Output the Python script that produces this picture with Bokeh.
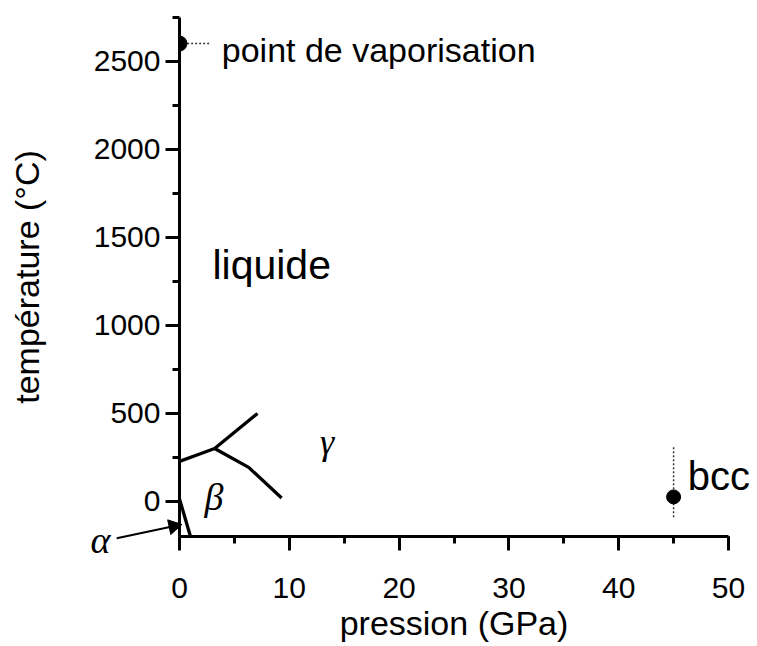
import math
from bokeh.plotting import figure
from bokeh.models import Label, SingleIntervalTicker
from bokeh.core.properties import value
from bokeh.embed import file_html
from bokeh.resources import INLINE

# ---- data (pressure in GPa, temperature in °C) ----
alpha_beta_p = [0.0, 1.0]
alpha_beta_t = [13, -200]

beta_gamma_p = [0.0, 1.9, 3.2]
beta_gamma_t = [227, 270, 300]

upper_branch_p = [3.2, 7.1]
upper_branch_t = [300, 499]

lower_branch_p = [3.2, 6.3, 9.3]
lower_branch_t = [300, 193, 19]

vap_p = [0.0]
vap_t = [2602]
vap_link_p = [0.7, 2.7]
vap_link_t = [2602, 2602]

bcc_p = [45.0]
bcc_t = [25]
bcc_link_p = [45.0, 45.0]
bcc_link_t = [308, -100]

# annotation anchors
alpha_arrow_p = [-5.72, -0.55]
alpha_arrow_t = [-210, -142]
alpha_head_p = [-0.55]
alpha_head_t = [-142]
alpha_label_p = [-7.2]
alpha_label_t = [-222]
bcc_label_p = [46.3]
bcc_label_t = [143]

x_ticks_major = 10
y_ticks_major = 500

FONT = "Liberation Sans"
SERIF = "Liberation Serif"

p = figure(width=754, height=646, x_range=(0, 50), y_range=(-200, 2750),
           output_backend="svg", toolbar_location=None,
           min_border_left=179, min_border_right=26,
           min_border_top=17, min_border_bottom=110)
p.outline_line_color = None
p.grid.visible = False
p.background_fill_color = "white"
p.border_fill_color = "white"

p.xaxis.ticker = SingleIntervalTicker(interval=x_ticks_major, num_minor_ticks=2)
p.yaxis.ticker = SingleIntervalTicker(interval=y_ticks_major, num_minor_ticks=2)

for ax in (p.xaxis[0], p.yaxis[0]):
    ax.axis_line_width = 3
    ax.axis_line_color = "black"
    ax.major_tick_line_width = 3
    ax.minor_tick_line_width = 3
    ax.major_tick_line_color = "black"
    ax.minor_tick_line_color = "black"
    ax.major_tick_in = 0
    ax.major_tick_out = 14
    ax.minor_tick_in = 0
    ax.minor_tick_out = 7
    ax.major_label_text_font = FONT
    ax.major_label_text_font_size = "30px"
    ax.major_label_text_color = "black"
    ax.axis_label_text_font = FONT
    ax.axis_label_text_font_size = "34px"
    ax.axis_label_text_font_style = "normal"
    ax.axis_label_text_color = "black"

p.xaxis.axis_label = "pression (GPa)"
p.yaxis.axis_label = "température (°C)"
p.xaxis.major_label_standoff = 27
p.yaxis.major_label_standoff = 5
p.xaxis.axis_label_standoff = 3
p.yaxis.axis_label_standoff = 45

# phase boundaries
for xs, ys in ((alpha_beta_p, alpha_beta_t), (beta_gamma_p, beta_gamma_t),
               (upper_branch_p, upper_branch_t), (lower_branch_p, lower_branch_t)):
    p.line(xs, ys, line_color="black", line_width=3.3)

# dotted leader lines
p.line(vap_link_p, vap_link_t, line_color="#333333", line_width=1.5, line_dash="2 2")
p.line(bcc_link_p, bcc_link_t, line_color="#333333", line_width=1.5, line_dash="2 2")

# points
p.scatter(vap_p, vap_t, size=15, color="black")
p.scatter(bcc_p, bcc_t, size=14, color="black")

# labels inside the frame
p.add_layout(Label(x=3.85, y=2563, text="point de vaporisation", text_font=FONT,
                   text_font_size="34px", text_color="black", text_align="left",
                   text_baseline="alphabetic"))
p.add_layout(Label(x=3.0, y=1344, text="liquide", text_font=FONT,
                   text_font_size="41px", text_color="black", text_align="left",
                   text_baseline="alphabetic"))
p.add_layout(Label(x=13.45, y=336, text="γ", text_font=SERIF, text_font_style="italic",
                   text_font_size="36px", text_color="black", text_align="center",
                   text_baseline="middle"))
p.add_layout(Label(x=3.15, y=24, text="β", text_font=SERIF, text_font_style="italic",
                   text_font_size="38px", text_color="black", text_align="center",
                   text_baseline="middle"))

# marks reaching outside the frame: drawn at overlay level so they are not clipped
r = p.text(bcc_label_p, bcc_label_t, text=["bcc"], text_font=value(FONT),
           text_font_size="40px", text_color="black", text_align="left",
           text_baseline="alphabetic")
r.level = "overlay"
r = p.text(alpha_label_p, alpha_label_t, text=["α"], text_font=value(SERIF),
           text_font_style="italic", text_font_size="38px", text_color="black",
           text_align="center", text_baseline="middle")
r.level = "overlay"
r = p.line(alpha_arrow_p, alpha_arrow_t, line_color="black", line_width=2)
r.level = "overlay"
r = p.scatter(alpha_head_p, alpha_head_t, marker="triangle", size=15,
              angle=math.radians(11.9 - 90), color="black")
r.level = "overlay"

open("out.html", "w").write(file_html(p, INLINE))
